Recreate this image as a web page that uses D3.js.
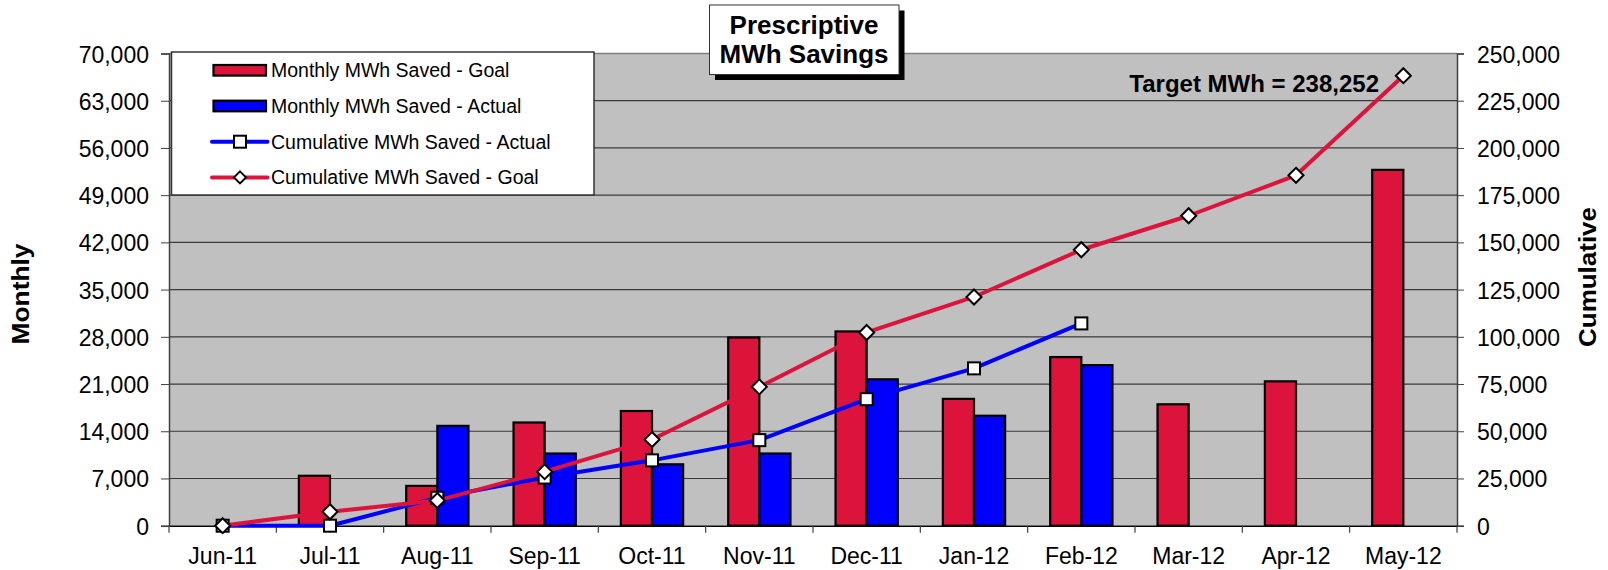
<!DOCTYPE html>
<html>
<head>
<meta charset="utf-8">
<script src="https://cdn.jsdelivr.net/npm/d3@7"></script>
<style>
  html, body { margin: 0; padding: 0; background: #fff; }
  svg { display: block; font-family: "Liberation Sans", Arial, sans-serif; }
</style>
</head>
<body>
<svg id="chart" width="1608" height="570"></svg>
<script>
const categories = ["Jun-11","Jul-11","Aug-11","Sep-11","Oct-11","Nov-11","Dec-11","Jan-12","Feb-12","Mar-12","Apr-12","May-12"];
const goalMonthly = [0, 7400, 5900, 15300, 17000, 27900, 28800, 18800, 25000, 18000, 21400, 52750];
const actualMonthly = [0, 0, 14800, 10700, 9100, 10700, 21700, 16300, 23800, null, null, null];
const goalCumulative = [0, 7400, 13300, 28600, 45600, 73500, 102300, 121100, 146100, 164100, 185500, 238252];
const actualCumulative = [0, 0, 14800, 25500, 34600, 45300, 67000, 83300, 107100, null, null, null];
const leftTicks = [0, 7000, 14000, 21000, 28000, 35000, 42000, 49000, 56000, 63000, 70000];
const rightTicks = [0, 25000, 50000, 75000, 100000, 125000, 150000, 175000, 200000, 225000, 250000];
const seriesNames = ["Monthly MWh Saved - Goal", "Monthly MWh Saved - Actual", "Cumulative MWh Saved - Actual", "Cumulative MWh Saved - Goal"];
const titleLines = ["Prescriptive", "MWh Savings"];
const targetLabel = "Target MWh = 238,252";

const RED = "#DC143C", BLUE = "#0000FF";
const L = 169, R = 1457, T = 53.5, B = 525.7;
const svg = d3.select("#chart");
const fmt = d3.format(",");

const x = d3.scaleBand().domain(categories).range([L, R]).paddingInner(0).paddingOuter(0);
const yL = d3.scaleLinear().domain([0, 70000]).range([B, T]);
const yR = d3.scaleLinear().domain([0, 250000]).range([B, T]);
const barW = x.bandwidth() * 0.29;
const cx = c => x(c) + x.bandwidth() / 2;

// plot background
svg.append("rect").attr("x", L).attr("y", T).attr("width", R - L).attr("height", B - T)
  .attr("fill", "#C0C0C0");

// gridlines
svg.append("g").selectAll("line").data(leftTicks.slice(1, -1)).join("line")
  .attr("x1", L).attr("x2", R).attr("y1", d => yL(d)).attr("y2", d => yL(d))
  .attr("stroke", "#3a3a3a").attr("stroke-width", 1.2);
svg.append("line").attr("x1", L).attr("x2", R).attr("y1", T).attr("y2", T)
  .attr("stroke", "#808080").attr("stroke-width", 1.5);

// left axis
const axL = svg.append("g").attr("transform", `translate(${L},0)`)
  .call(d3.axisLeft(yL).tickValues(leftTicks).tickFormat(fmt).tickSize(8).tickPadding(12));
axL.select(".domain").attr("stroke", "#404040").attr("stroke-width", 1.5);
axL.selectAll(".tick line").attr("stroke", "#404040");
axL.selectAll(".tick text").attr("font-size", 23).attr("fill", "#000")
  .attr("font-family", "'Liberation Sans', Arial, sans-serif").attr("dy", "0.37em");

// right axis
const axR = svg.append("g").attr("transform", `translate(${R},0)`)
  .call(d3.axisRight(yR).tickValues(rightTicks).tickFormat(fmt).tickSize(7).tickPadding(13));
axR.select(".domain").attr("stroke", "#404040").attr("stroke-width", 1.5);
axR.selectAll(".tick line").attr("stroke", "#404040");
axR.selectAll(".tick text").attr("font-size", 23).attr("fill", "#000")
  .attr("font-family", "'Liberation Sans', Arial, sans-serif").attr("dy", "0.37em");

// bottom axis
const axB = svg.append("g").attr("transform", `translate(0,${B})`)
  .call(d3.axisBottom(x).tickSize(0).tickPadding(22));
axB.select(".domain").attr("stroke", "#000").attr("stroke-width", 1.5);
axB.selectAll(".tick text").attr("font-size", 23).attr("fill", "#000")
  .attr("font-family", "'Liberation Sans', Arial, sans-serif");
svg.append("g").selectAll("line").data(d3.range(categories.length + 1)).join("line")
  .attr("x1", i => L + i * x.step()).attr("x2", i => L + i * x.step())
  .attr("y1", B).attr("y2", B + 7).attr("stroke", "#404040").attr("stroke-width", 1.2);

// bars
const goalBars = categories.map((c, i) => ({c, v: goalMonthly[i]})).filter(d => d.v);
const actualBars = categories.map((c, i) => ({c, v: actualMonthly[i]})).filter(d => d.v);
svg.append("g").selectAll("rect").data(goalBars).join("rect")
  .attr("x", d => cx(d.c) - barW).attr("width", barW)
  .attr("y", d => yL(d.v)).attr("height", d => B - yL(d.v))
  .attr("fill", RED).attr("stroke", "#000").attr("stroke-width", 2.2);
svg.append("g").selectAll("rect").data(actualBars).join("rect")
  .attr("x", d => cx(d.c)).attr("width", barW)
  .attr("y", d => yL(d.v)).attr("height", d => B - yL(d.v))
  .attr("fill", BLUE).attr("stroke", "#000").attr("stroke-width", 2.2);

// lines
const line = d3.line().defined(d => d.v != null).x(d => cx(d.c)).y(d => yR(d.v));
const actPts = categories.map((c, i) => ({c, v: actualCumulative[i]}));
const goalPts = categories.map((c, i) => ({c, v: goalCumulative[i]}));
svg.append("path").datum(actPts).attr("d", line).attr("fill", "none")
  .attr("stroke", BLUE).attr("stroke-width", 4).attr("stroke-linejoin", "round");
svg.append("path").datum(goalPts).attr("d", line).attr("fill", "none")
  .attr("stroke", RED).attr("stroke-width", 4).attr("stroke-linejoin", "round");

const sq = 12, dm = 7.5;
svg.append("g").selectAll("rect").data(actPts.filter(d => d.v != null)).join("rect")
  .attr("x", d => cx(d.c) - sq / 2).attr("y", d => yR(d.v) - sq / 2)
  .attr("width", sq).attr("height", sq)
  .attr("fill", "#fff").attr("stroke", "#000").attr("stroke-width", 2);
svg.append("g").selectAll("path").data(goalPts).join("path")
  .attr("d", d => { const X = cx(d.c), Y = yR(d.v);
    return `M${X},${Y - dm}L${X + dm},${Y}L${X},${Y + dm}L${X - dm},${Y}Z`; })
  .attr("fill", "#fff").attr("stroke", "#000").attr("stroke-width", 2);

// target label
svg.append("text").attr("x", 1379).attr("y", 91.5).attr("text-anchor", "end")
  .attr("font-size", 24).attr("font-weight", "bold").text(targetLabel);

// legend
const lg = svg.append("g");
lg.append("rect").attr("x", 171.5).attr("y", 52).attr("width", 422.5).attr("height", 143)
  .attr("fill", "#fff").attr("stroke", "#333").attr("stroke-width", 1.5);
const rowY = i => 70.3 + i * 35.7;
[RED, BLUE].forEach((col, i) => {
  lg.append("rect").attr("x", 213.5).attr("y", rowY(i) - 5.3).attr("width", 52.5).attr("height", 10.6)
    .attr("fill", col).attr("stroke", "#000").attr("stroke-width", 2.2);
});
lg.append("line").attr("x1", 212).attr("x2", 267.5).attr("y1", rowY(2)).attr("y2", rowY(2))
  .attr("stroke", BLUE).attr("stroke-width", 4).attr("stroke-linecap", "round");
lg.append("rect").attr("x", 240 - sq / 2).attr("y", rowY(2) - sq / 2).attr("width", sq).attr("height", sq)
  .attr("fill", "#fff").attr("stroke", "#000").attr("stroke-width", 2);
lg.append("line").attr("x1", 212).attr("x2", 267.5).attr("y1", rowY(3)).attr("y2", rowY(3))
  .attr("stroke", RED).attr("stroke-width", 4).attr("stroke-linecap", "round");
lg.append("path").attr("d", `M240,${rowY(3) - 6}L246,${rowY(3)}L240,${rowY(3) + 6}L234,${rowY(3)}Z`)
  .attr("fill", "#fff").attr("stroke", "#000").attr("stroke-width", 2);
lg.selectAll("text.lt").data(seriesNames).join("text").attr("class", "lt")
  .attr("x", 271).attr("y", (d, i) => rowY(i) + 7).attr("font-size", 19.5).attr("fill", "#000")
  .text(d => d);

// title box
svg.append("rect").attr("x", 715).attr("y", 10.5).attr("width", 189.5).attr("height", 69.5).attr("fill", "#000");
svg.append("rect").attr("x", 709.5).attr("y", 5).attr("width", 189.5).attr("height", 69.5)
  .attr("fill", "#fff").attr("stroke", "#333").attr("stroke-width", 1);
svg.selectAll("text.tt").data(titleLines).join("text").attr("class", "tt")
  .attr("x", 804).attr("y", (d, i) => 34 + i * 29).attr("text-anchor", "middle")
  .attr("font-size", 26).attr("font-weight", "bold").text(d => d);

// axis titles
svg.append("text").attr("transform", "translate(29,294) rotate(-90)").attr("text-anchor", "middle")
  .attr("font-size", 24).attr("font-weight", "bold").attr("textLength", 101)
  .attr("lengthAdjust", "spacingAndGlyphs").text("Monthly");
svg.append("text").attr("transform", "translate(1596,277) rotate(-90)").attr("text-anchor", "middle")
  .attr("font-size", 24).attr("font-weight", "bold").attr("textLength", 140)
  .attr("lengthAdjust", "spacingAndGlyphs").text("Cumulative");
</script>
</body>
</html>
